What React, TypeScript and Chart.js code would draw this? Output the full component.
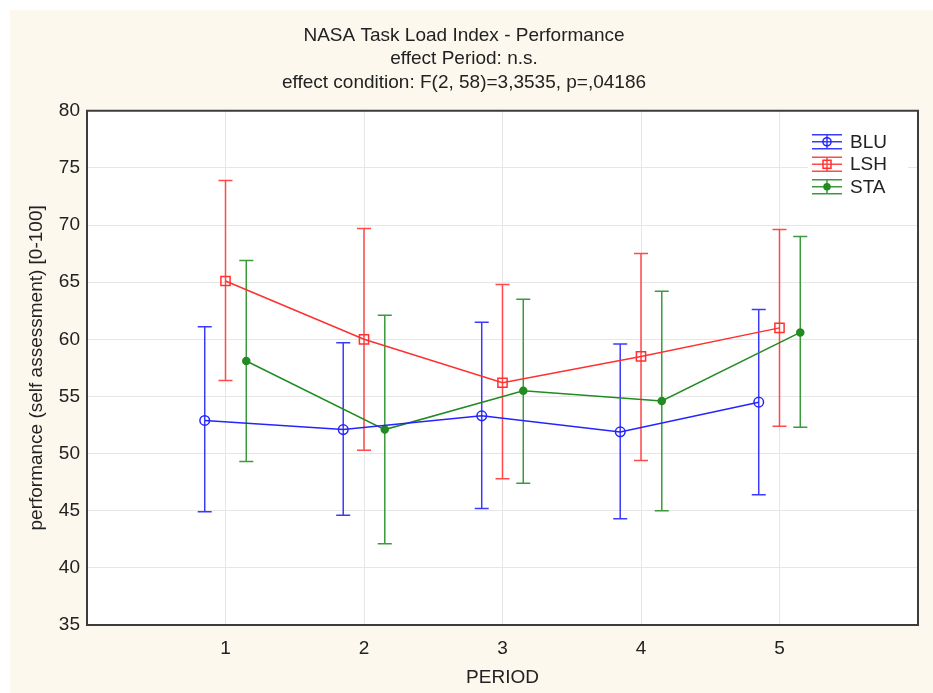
import React, { useEffect, useRef } from 'react';
import { Chart, registerables } from 'chart.js';

Chart.register(...registerables);

const titleLines = [
  'NASA Task Load Index - Performance',
  'effect Period: n.s.',
  'effect condition: F(2, 58)=3,3535, p=,04186',
];
const xAxisTitle = 'PERIOD';
const yAxisTitle = 'performance (self assessment) [0-100]';

const periods = [1, 2, 3, 4, 5];
const periodLabels = ['1', '2', '3', '4', '5'];
const seriesNames = ['BLU', 'LSH', 'STA'];

const bluMean = [52.9, 52.1, 53.3, 51.9, 54.5];
const bluLow = [44.9, 44.6, 45.2, 44.3, 46.4];
const bluHigh = [61.1, 59.7, 61.5, 59.6, 62.6];

const lshMean = [65.1, 60.0, 56.2, 58.5, 61.0];
const lshLow = [56.4, 50.3, 47.8, 49.4, 52.4];
const lshHigh = [73.9, 69.7, 64.8, 67.5, 69.6];

const staMean = [58.1, 52.1, 55.5, 54.6, 60.6];
const staLow = [49.3, 42.1, 47.4, 45.0, 52.3];
const staHigh = [66.9, 62.1, 63.5, 64.2, 69.0];

const xOffsets = [-0.15, 0, 0.15];
const yMin = 35;
const yMax = 80;
const yStep = 5;

const colors = ['#2424ff', '#ff3030', '#228b22'];
const barColors = ['#3a3aff', '#ff4a4a', '#3c9a3c'];
const pointStyles = ['circle', 'rect', 'circle'];
const pointRadii = [4.8, 6.5, 3.5];
const pointFills = ['rgba(0,0,0,0)', 'rgba(0,0,0,0)', '#228b22'];

const FONT = "'Liberation Sans', Arial, sans-serif";
const CAP = 7;

function buildPoints(mean: number[], low: number[], high: number[], off: number) {
  return periods.map((p, i) => ({ x: p + off, y: mean[i], yLow: low[i], yHigh: high[i] }));
}

const errorBarPlugin = {
  id: 'errorBars',
  beforeDatasetsDraw(chart: any) {
    const ctx = chart.ctx;
    const ys = chart.scales.y;
    chart.data.datasets.forEach((ds: any, di: number) => {
      const meta = chart.getDatasetMeta(di);
      ctx.save();
      ctx.strokeStyle = barColors[di];
      ctx.lineWidth = 1.5;
      meta.data.forEach((el: any, i: number) => {
        const d = ds.data[i];
        const x = el.x;
        const yt = ys.getPixelForValue(d.yHigh);
        const yb = ys.getPixelForValue(d.yLow);
        ctx.beginPath();
        ctx.moveTo(x, yt);
        ctx.lineTo(x, yb);
        ctx.moveTo(x - CAP, yt);
        ctx.lineTo(x + CAP, yt);
        ctx.moveTo(x - CAP, yb);
        ctx.lineTo(x + CAP, yb);
        ctx.stroke();
      });
      ctx.restore();
    });
  },
};

const frameLegendPlugin = {
  id: 'frameLegend',
  beforeDraw(chart: any) {
    const { ctx, chartArea: a } = chart;
    ctx.save();
    ctx.fillStyle = '#ffffff';
    ctx.fillRect(a.left, a.top, a.right - a.left, a.bottom - a.top);
    ctx.restore();
  },
  afterDraw(chart: any) {
    const { ctx, chartArea: a } = chart;
    ctx.save();
    ctx.strokeStyle = '#3c3c3c';
    ctx.lineWidth = 2;
    ctx.strokeRect(a.left, a.top, a.right - a.left, a.bottom - a.top);

    // legend
    const lx = a.right - 106;
    const ly = a.top + 31;
    const rowH = 22.5;
    ctx.fillStyle = '#ffffff';
    ctx.fillRect(lx - 4, ly - 12, 100, rowH * seriesNames.length + 4);
    seriesNames.forEach((name, i) => {
      const cy = ly + i * rowH;
      const col = colors[i];
      ctx.strokeStyle = barColors[i];
      ctx.lineWidth = 1.5;
      ctx.beginPath();
      ctx.moveTo(lx, cy - 7);
      ctx.lineTo(lx + 30, cy - 7);
      ctx.moveTo(lx, cy);
      ctx.lineTo(lx + 30, cy);
      ctx.moveTo(lx, cy + 7);
      ctx.lineTo(lx + 30, cy + 7);
      ctx.moveTo(lx + 15, cy - 7);
      ctx.lineTo(lx + 15, cy + 7);
      ctx.stroke();
      ctx.fillStyle = pointFills[i];
      ctx.strokeStyle = col;
      ctx.lineWidth = 1.5;
      ctx.beginPath();
      if (pointStyles[i] === 'rect') {
        const s = 4;
        ctx.rect(lx + 15 - s, cy - s, 2 * s, 2 * s);
      } else {
        ctx.arc(lx + 15, cy, pointRadii[i] * 0.85, 0, Math.PI * 2);
      }
      ctx.fill();
      ctx.stroke();
      ctx.fillStyle = '#222222';
      ctx.font = `19px ${FONT}`;
      ctx.textBaseline = 'middle';
      ctx.textAlign = 'left';
      ctx.fillText(name, lx + 38, cy + 1);
    });
    ctx.restore();
  },
};

export default function App() {
  const ref = useRef<HTMLCanvasElement | null>(null);

  useEffect(() => {
    if (!ref.current) return;
    Chart.defaults.font.family = FONT;
    const means = [bluMean, lshMean, staMean];
    const lows = [bluLow, lshLow, staLow];
    const highs = [bluHigh, lshHigh, staHigh];
    const chart = new Chart(ref.current, {
      type: 'line',
      data: {
        datasets: seriesNames.map((name, i) => ({
          label: name,
          data: buildPoints(means[i], lows[i], highs[i], xOffsets[i]) as any,
          borderColor: colors[i],
          backgroundColor: pointFills[i],
          borderWidth: 1.5,
          pointStyle: pointStyles[i] as any,
          pointRadius: pointRadii[i],
          pointBorderWidth: 1.5,
          pointBorderColor: colors[i],
          pointBackgroundColor: pointFills[i],
          tension: 0,
        })),
      },
      options: {
        animation: false,
        responsive: false,
        events: [],
        layout: { padding: { left: 0, right: 15, top: 0, bottom: 0 } },
        plugins: {
          legend: { display: false },
          tooltip: { enabled: false },
          title: {
            display: true,
            text: titleLines,
            color: '#222222',
            font: { size: 19, family: FONT, weight: 'normal', lineHeight: 1.25 },
            padding: { top: 13.5, bottom: 16 },
          },
        },
        scales: {
          x: {
            type: 'linear',
            min: 0,
            max: 6,
            afterFit(scale: any) {
              scale.height = 68;
            },
            afterBuildTicks(scale: any) {
              scale.ticks = [0, ...periods, 6].map((v) => ({ value: v }));
            },
            ticks: {
              stepSize: 1,
              padding: 12,
              color: '#222222',
              font: { size: 19, family: FONT },
              callback: (v: any) => {
                const idx = periods.indexOf(Number(v));
                return idx >= 0 ? periodLabels[idx] : '';
              },
            },
            grid: { color: '#e6e6e6', lineWidth: 1, drawTicks: false },
            border: { display: false },
            title: {
              display: true,
              text: xAxisTitle,
              color: '#222222',
              font: { size: 19, family: FONT },
              padding: { top: 0, bottom: 3.5 },
            },
          },
          y: {
            type: 'linear',
            min: yMin,
            max: yMax,
            afterFit(scale: any) {
              scale.width = 77;
            },
            ticks: {
              stepSize: yStep,
              padding: 7,
              color: '#222222',
              font: { size: 19, family: FONT },
            },
            grid: { color: '#e6e6e6', lineWidth: 1, drawTicks: false },
            border: { display: false },
            title: {
              display: true,
              text: yAxisTitle,
              color: '#222222',
              font: { size: 19, family: FONT },
              padding: { top: 15, bottom: 0 },
            },
          },
        },
      },
      plugins: [errorBarPlugin, frameLegendPlugin],
    } as any);
    return () => chart.destroy();
  }, []);

  return (
    <div
      style={{
        position: 'fixed',
        left: 10,
        top: 10,
        width: 923,
        height: 683,
        background: '#fdf8ee',
      }}
    >
      <canvas ref={ref} width={923} height={683} style={{ display: 'block', width: 923, height: 683 }} />
    </div>
  );
}
